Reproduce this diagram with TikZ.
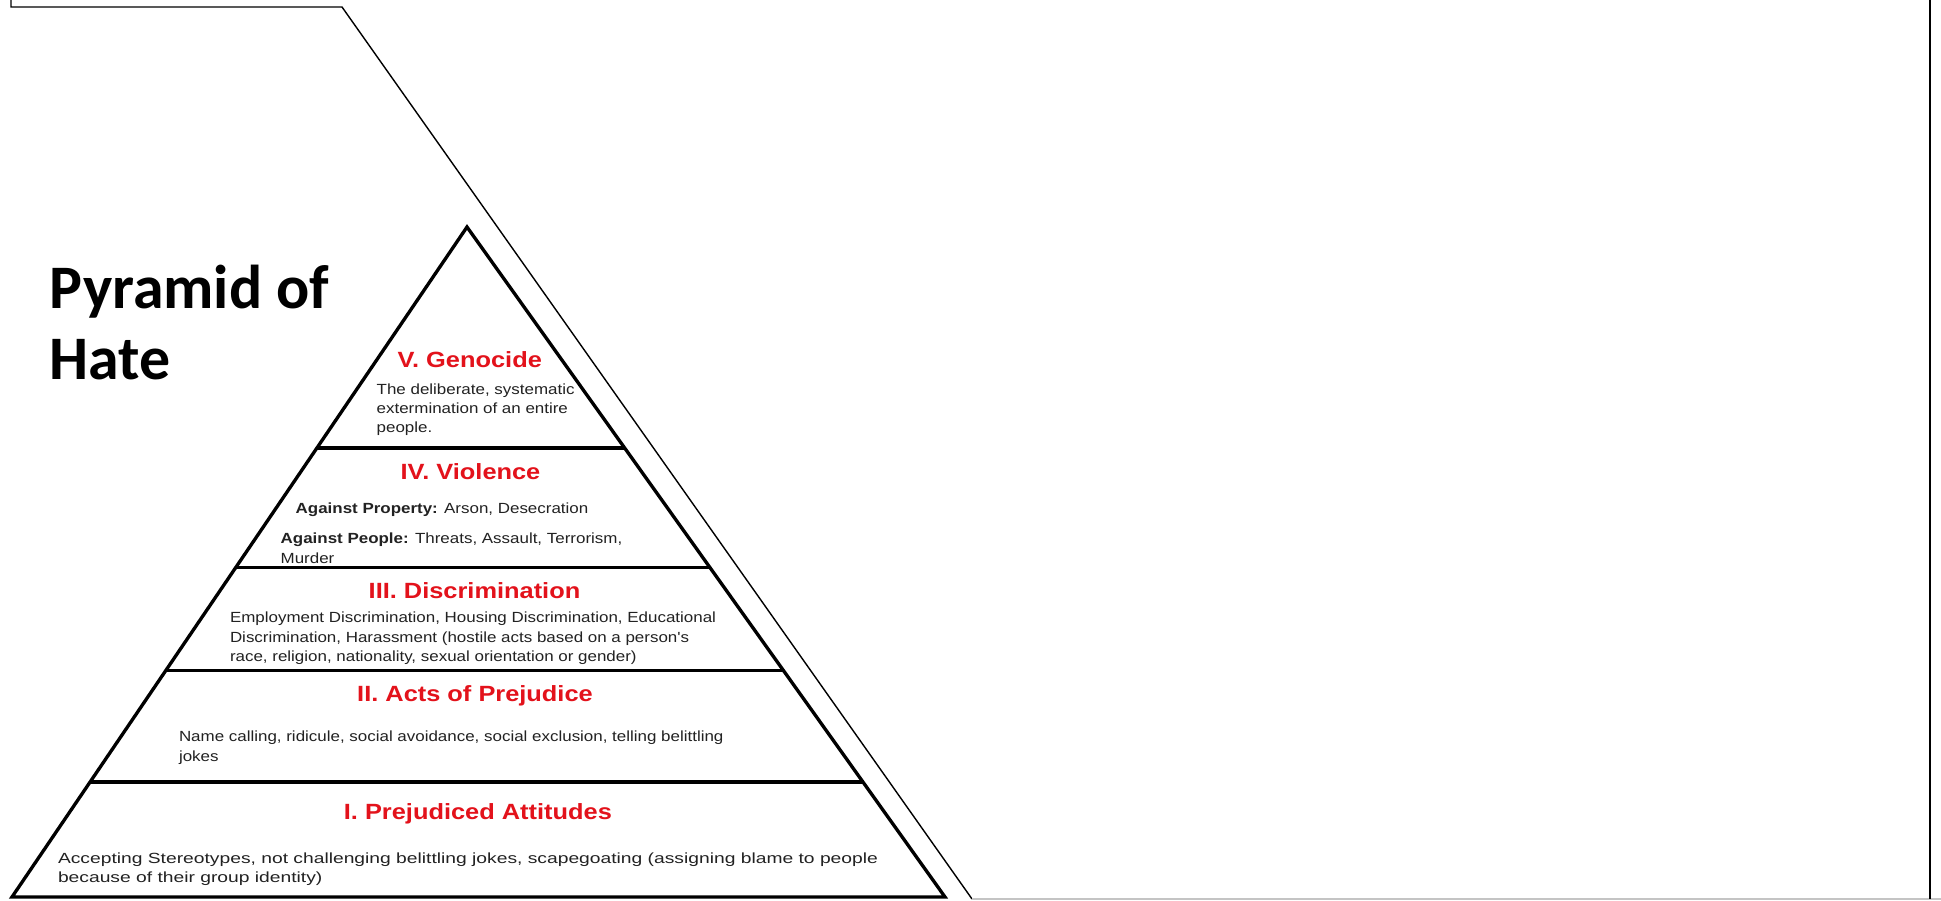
\documentclass[tikz,border=0pt]{standalone}
\usepackage{fontspec}
\setmainfont{Liberation Sans}
\newfontfamily\titlefont{Carlito}
\newfontfamily\tierfont[FakeStretch=1.153]{Liberation Sans}
\newfontfamily\widetierfont[FakeStretch=1.31]{Liberation Sans}
\definecolor{tierred}{HTML}{E3121B}
\definecolor{tiergrey}{HTML}{222222}
\definecolor{edgegrey}{HTML}{C4C4C4}

\tikzset{pyramid title/.style={font=\titlefont\bfseries\fontsize{17.6}{21}\selectfont,anchor=base west,inner sep=0},
tier title/.style={font=\tierfont\bfseries\fontsize{6.26}{7.5}\selectfont,text=tierred,anchor=base,inner sep=0},
tier text/.style={font=\tierfont\fontsize{4.18}{5}\selectfont,text=tiergrey,anchor=base west,inner sep=0},
wide tier text/.style={tier text,font=\widetierfont\fontsize{4.18}{5}\selectfont},
pyramid line/.style={line width=0.95pt,line join=miter},
tier line/.style={line width=1.05pt},
sheet line/.style={line width=0.4pt},
sheet bottom/.style={line width=0.5pt,draw=edgegrey}}

\begin{document}
\begin{tikzpicture}[x=0.01cm,y=-0.01cm]
\path[fill=white,use as bounding box] (0,0) rectangle (1941,901);

%% Coordinates of the pyramid corners.
\coordinate (apex) at (467,227);
\coordinate (bl) at (12,897);
\coordinate (br) at (945,897);

%% Coordinates of the tier boundaries (left and right ends).
\coordinate (t5l) at (316.9,448);
\coordinate (t5r) at (624.7,448);
\coordinate (t4l) at (235.8,567.5);
\coordinate (t4r) at (709.9,567.5);
\coordinate (t3l) at (165.8,670.5);
\coordinate (t3r) at (783.4,670.5);
\coordinate (t2l) at (90.1,782);
\coordinate (t2r) at (863.0,782);

%% Coordinates of the sheet outline.
\coordinate (s0) at (11,0);
\coordinate (s1) at (11,7);
\coordinate (s2) at (342,7);
\coordinate (s3) at (972,899);
\coordinate (s4) at (1941,899);
\coordinate (s5) at (1930,0);
\coordinate (s6) at (1930,899);

%% sheet outline
\draw [sheet line] (s0) -- (s1) -- (s2) -- (s3);
\draw [sheet bottom] (s3) -- (s4);
\draw [line width=0.5pt] (s5) -- (s6);

%% pyramid outline
\draw [pyramid line] (bl) -- (apex) -- (br) -- cycle;

%% tier boundaries
\draw [tier line] (t5l) -- (t5r);
\draw [tier line] (t4l) -- (t4r);
\draw [tier line] (t3l) -- (t3r);
\draw [tier line] (t2l) -- (t2r);

%% heading
\node [pyramid title] (title1) at (49,309) {Pyramid of};
\node [pyramid title] (title2) at (49,380) {Hate};

%% tier titles
\node [tier title] (h5) at (469.7,367.3) {V. Genocide};
\node [tier title] (h4) at (470.5,479.3) {IV. Violence};
\node [tier title] (h3) at (474.5,599) {III. Discrimination};
\node [tier title] (h2) at (475,702) {II. Acts of Prejudice};
\node [tier title] (h1) at (477.9,820) {I. Prejudiced Attitudes};

%% tier texts
\node [tier text] (g1) at (376,395) {The deliberate, systematic};
\node [tier text] (g2) at (376,414) {extermination of an entire};
\node [tier text] (g3) at (376,432.7) {people.};

\node [tier text] (v1) at (295,513.3) {\textbf{Against Property:} Arson, Desecration};
\node [tier text] (v2) at (280,543.3) {\textbf{Against People:} Threats, Assault, Terrorism,};
\node [tier text] (v3) at (280,563.3) {Murder};

\node [tier text] (d1) at (229.3,622.3) {Employment Discrimination, Housing Discrimination, Educational};
\node [tier text] (d2) at (229.3,642.3) {Discrimination, Harassment (hostile acts based on a person's};
\node [tier text] (d3) at (229.3,661.7) {race, religion, nationality, sexual orientation or gender)};

\node [tier text] (a1) at (178.3,742) {Name calling, ridicule, social avoidance, social exclusion, telling belittling};
\node [tier text] (a2) at (178.3,762) {jokes};

\node [wide tier text] (p1) at (57.3,863.5) {Accepting Stereotypes, not challenging belittling jokes, scapegoating (assigning blame to people};
\node [wide tier text] (p2) at (57.3,882.5) {because of their group identity)};

\end{tikzpicture}
\end{document}
